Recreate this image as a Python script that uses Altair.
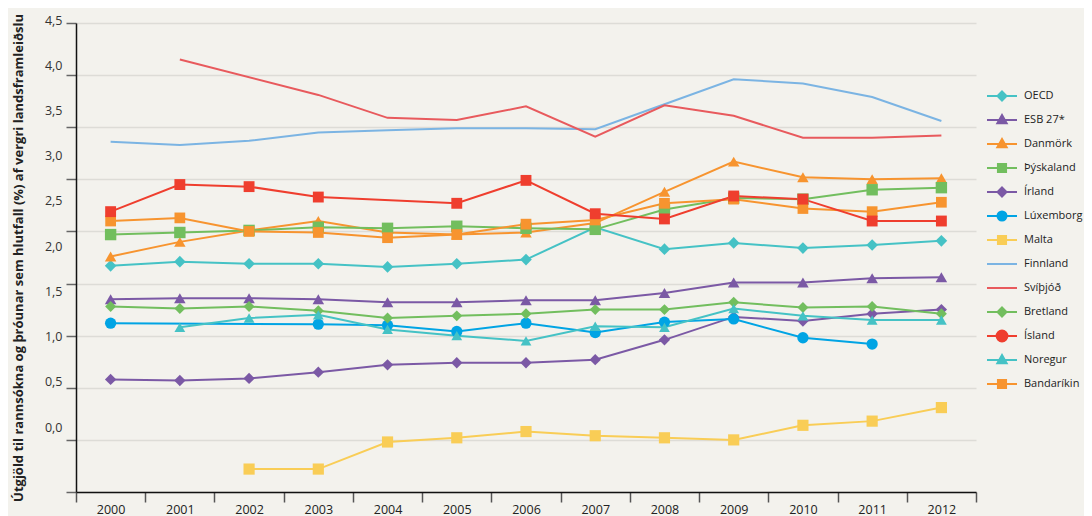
import altair as alt
import pandas as pd

years = list(range(2000, 2013))

series_names = ["OECD", "ESB 27*", "Danmörk", "Þýskaland", "Írland", "Lúxemborg",
                "Malta", "Finnland", "Svíþjóð", "Bretland", "Ísland", "Noregur", "Bandaríkin"]

oecd = [2.17, 2.21, 2.19, 2.19, 2.16, 2.19, 2.23, 2.54, 2.33, 2.39, 2.34, 2.37, 2.41]
esb27 = [1.85, 1.86, 1.86, 1.85, 1.82, 1.82, 1.84, 1.84, 1.91, 2.01, 2.01, 2.05, 2.06]
danmork = [2.26, 2.40, 2.51, 2.60, 2.49, 2.47, 2.49, 2.58, 2.88, 3.17, 3.02, 3.00, 3.01]
thyskaland = [2.47, 2.49, 2.51, 2.54, 2.53, 2.55, 2.53, 2.52, 2.71, 2.82, 2.81, 2.90, 2.92]
irland = [1.08, 1.07, 1.09, 1.15, 1.22, 1.24, 1.24, 1.27, 1.46, 1.68, 1.64, 1.71, 1.75]
luxemborg = [1.62, None, None, 1.61, 1.60, 1.54, 1.62, 1.53, 1.63, 1.66, 1.48, 1.42, None]
malta = [None, None, 0.22, 0.22, 0.48, 0.52, 0.58, 0.54, 0.52, 0.50, 0.64, 0.68, 0.81]
finnland = [3.36, 3.33, 3.37, 3.45, 3.47, 3.49, 3.49, 3.48, 3.72, 3.96, 3.92, 3.79, 3.56]
svithjod = [None, 4.15, None, 3.81, 3.59, 3.57, 3.70, 3.41, 3.71, 3.61, 3.40, 3.40, 3.42]
bretland = [1.78, 1.76, 1.78, 1.74, 1.67, 1.69, 1.71, 1.75, 1.75, 1.82, 1.77, 1.78, 1.71]
island = [2.69, 2.95, 2.93, 2.83, None, 2.77, 2.99, 2.67, 2.62, 2.84, 2.81, 2.60, 2.60]
noregur = [None, 1.58, 1.67, 1.70, 1.56, 1.50, 1.45, 1.59, 1.58, 1.76, 1.69, 1.65, 1.65]
bandarikin = [2.60, 2.63, 2.50, 2.49, 2.44, 2.47, 2.57, 2.61, 2.77, 2.81, 2.72, 2.69, 2.78]

all_values = [oecd, esb27, danmork, thyskaland, irland, luxemborg, malta,
              finnland, svithjod, bretland, island, noregur, bandarikin]

colors = ["#45c2c5", "#7b59a5", "#f7942f", "#72be5e", "#7b59a5", "#00a4e4",
          "#f9cd56", "#7bb4e3", "#e85a5d", "#72be5e", "#ef3e2e", "#45c2c5", "#f7942f"]
point_shapes = ["diamond", "triangle-up", "triangle-up", "square", "diamond", "circle",
                "square", "circle", "circle", "diamond", "square", "triangle-up", "square"]
point_sizes = [135, 115, 115, 125, 135, 120, 125, 0, 0, 135, 150, 115, 125]
line_widths = [2, 2, 2, 2, 2, 3, 2, 2, 2, 2.2, 3.2, 2, 2]
no_marker = ["Finnland", "Svíþjóð"]

y_ticks = [0, 0.5, 1.0, 1.5, 2.0, 2.5, 3.0, 3.5, 4.0, 4.5]

# legend symbols: line + marker (unit path, scaled by sqrt(size)/2)
L = "M-1,0L1,0"
D = L + "M0,-0.3L0.3,0L0,0.3L-0.3,0Z"
T = L + "M0,-0.33L0.31,0.22L-0.31,0.22Z"
S = L + "M-0.27,-0.27L0.27,-0.27L0.27,0.27L-0.27,0.27Z"
C = L + "M-0.3,0A0.3,0.3,0,1,1,0.3,0A0.3,0.3,0,1,1,-0.3,0Z"
CB = L + "M-0.36,0A0.36,0.36,0,1,1,0.36,0A0.36,0.36,0,1,1,-0.36,0Z"
legend_paths = [D, T, T, S, D, C, S, L, L, D, CB, T, S]
legend_widths = [2, 2, 2, 2, 2, 2.6, 2, 2, 2, 2, 4, 2, 2]

# draw order: Ísland on top
draw_order = [n for n in series_names if n != "Ísland"] + ["Ísland"]
rows = []
for name in draw_order:
    vals = all_values[series_names.index(name)]
    for yr, v in zip(years, vals):
        if v is not None:
            rows.append({"series": name, "year": str(yr), "value": v})
df = pd.DataFrame(rows)

FONT = "Open Sans"

x = alt.X("year:O",
          scale=alt.Scale(type="band", paddingInner=0, paddingOuter=0),
          axis=alt.Axis(title=None, tickBand="extent", labelAngle=0, labelFont=FONT,
                        labelFontSize=12.5, labelColor="#222", labelPadding=1,
                        tickSize=10, tickColor="#555", tickWidth=1.5,
                        domainColor="#111", domainWidth=1.5, grid=False))
y = alt.Y("value:Q",
          scale=alt.Scale(domain=[0, 4.5], nice=False, zero=False),
          axis=alt.Axis(title="Útgjöld til rannsókna og þróunar sem hlutfall (%) af vergri landsframleiðslu",
                        titleFont=FONT, titleFontSize=13, titleFontWeight="bold", titleColor="#222",
                        titlePadding=19, titleLimit=700,
                        values=y_ticks,
                        labelExpr="replace(format(datum.value, '.1f'), '.', ',')",
                        labelOffset={"expr": "-65 + 13.8 * datum.value"},
                        labelFont=FONT, labelFontSize=12.5, labelColor="#333", labelPadding=4,
                        labelOverlap=False,
                        tickSize=10, tickColor="#666", tickWidth=1.5,
                        domainColor="#111", domainWidth=1.5,
                        grid=True, gridColor="#dddcd7", gridWidth=1.5))

color_scale = alt.Scale(domain=series_names, range=colors)

lines = alt.Chart(df).mark_line().encode(
    x=x, y=y,
    color=alt.Color("series:N", scale=color_scale, legend=None),
    strokeWidth=alt.StrokeWidth("series:N", scale=alt.Scale(domain=series_names, range=line_widths), legend=None),
)

points = alt.Chart(df).transform_filter(
    alt.FieldOneOfPredicate(field="series", oneOf=[n for n in series_names if n not in no_marker])
).mark_point(filled=True, opacity=1).encode(
    x=x, y=y,
    color=alt.Color("series:N", scale=color_scale, legend=None),
    shape=alt.Shape("series:N", scale=alt.Scale(domain=series_names, range=point_shapes), legend=None),
    size=alt.Size("series:N", scale=alt.Scale(domain=series_names, range=point_sizes), legend=None),
)

leg = alt.Legend(title=None, orient="none", legendX=910, legendY=61, symbolSize=900,
                 clipHeight=24, rowPadding=0, labelOffset=6, labelFont=FONT,
                 labelFontSize=11, labelColor="#222", symbolOpacity=1, padding=0,
                 symbolStrokeWidth=2, labelLimit=200)

legend_layer = alt.Chart(df).mark_point(filled=True, opacity=0).encode(
    x=x, y=y,
    fill=alt.Fill("series:N", scale=alt.Scale(domain=series_names, range=colors), legend=leg),
    stroke=alt.Stroke("series:N", scale=alt.Scale(domain=series_names, range=colors), legend=leg),
    shape=alt.Shape("series:N", scale=alt.Scale(domain=series_names, range=legend_paths), legend=leg),
    strokeWidth=alt.StrokeWidth("series:N", scale=alt.Scale(domain=series_names, range=legend_widths), legend=leg),
)

chart = alt.layer(lines, points, legend_layer).resolve_scale(
    shape="independent", strokeWidth="independent", fill="independent",
    stroke="independent", size="independent"
).properties(
    width=900, height=469,
    autosize=alt.AutoSizeParams(type="none"),
    padding={"left": 68, "top": 15, "right": 108, "bottom": 26},
    background="#f3f2ed",
).configure_view(stroke=None)

chart.save("out.html", embed_options={"renderer": "svg", "actions": False})
